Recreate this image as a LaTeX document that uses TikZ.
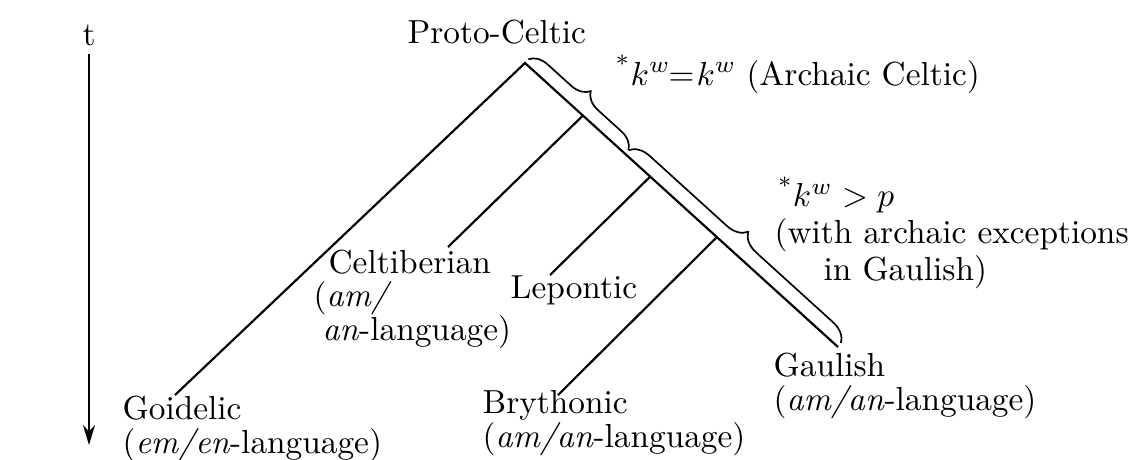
\documentclass[tikz,border=0pt]{standalone}
\usepackage{amsmath}
\usetikzlibrary{arrows.meta,positioning,calc,decorations.pathreplacing}

\begin{document}
\begin{tikzpicture}[
    x=0.3pt, y=-0.3pt,
    branch/.style={line width=0.65pt},
    lang/.style={anchor=base west, inner sep=0pt, align=left, font=\fontsize{10}{10}\selectfont},
    rule/.style={anchor=base west, inner sep=0pt, align=left, font=\fontsize{10}{11}\selectfont},
    curly/.style={decorate, decoration={brace, amplitude=5.5pt, raise=1.5pt}, line width=0.5pt},
    timeline/.style={-{Stealth[length=6pt, width=3.6pt]}, line width=0.7pt}
  ]
  \useasboundingbox (0,0) rectangle (1134,459);

  % Time axis
  \node[anchor=base, inner sep=2.4pt] (tlabel) at (89,45) {t};
  \coordinate (tend) at (89,445);
  \draw[timeline] (tlabel.south) -- (tend);

  % Tree
  \coordinate (root) at (525,63);
  \coordinate (gaul) at (838,347);
  \coordinate (goid) at (175,395);
  \coordinate (celt) at ($(root)!0.185!(gaul)$);
  \coordinate (lepo) at ($(root)!0.40!(gaul)$);
  \coordinate (bryt) at ($(root)!0.613!(gaul)$);
  \coordinate (celtend) at (448,247);
  \coordinate (lepoend) at (550,275);
  \coordinate (brytend) at (558,395);

  \draw[branch] (goid) -- (root) -- (gaul);
  \draw[branch] (celt) -- (celtend);
  \draw[branch] (lepo) -- (lepoend);
  \draw[branch] (bryt) -- (brytend);

  % Braces
  \coordinate (split) at ($(root)!0.32!(gaul)$);
  \draw[curly] (root) -- (split);
  \draw[curly, decoration={amplitude=6pt}] (split) -- (gaul);

  % Labels (base = last line)
  \node[lang] (proto) at (407,43) {Proto-Celtic};
  \node[rule] (rulekw) at (615,85) {\textsuperscript{*}$k^{w}\mkern-1mu{=}\mkern1mu k^{w}$\hspace{3pt}(Archaic Celtic)};
  \node[rule] (rulep) at (774,280) {\hspace*{1pt}\textsuperscript{*}$k^{w} > p$\\(with archaic exceptions\\\hspace*{14.7pt}in Gaulish)};
  \node[lang] (celtlab) at (313,340) {\hspace*{4.5pt}Celtiberian\\(\textit{am/}\\\hspace*{2.7pt}\textit{an}-language)};
  \node[lang] (lepolab) at (510,298) {Lepontic};
  \node[lang] (gaullab) at (773,410) {Gaulish\\(\textit{am/an}-language)};
  \node[lang] (brytlab) at (482,447) {Brythonic\\(\textit{am/an}-language)};
  \node[lang] (goidlab) at (122,453) {Goidelic\\(\textit{em/en}-language)};
\end{tikzpicture}
\end{document}
